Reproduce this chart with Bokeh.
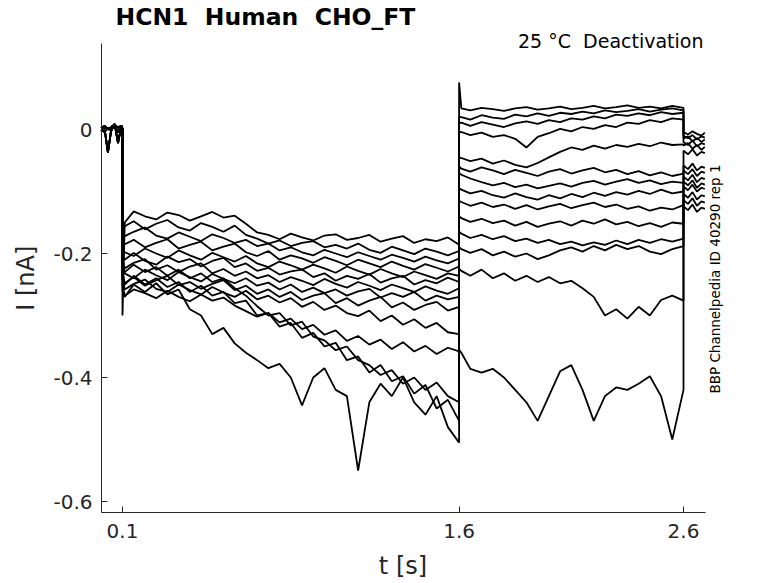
import math
from bokeh.plotting import figure
from bokeh.models import FixedTicker, Range1d, Label
from bokeh.embed import file_html
from bokeh.resources import INLINE

# ---------------- data ----------------
# time grids [s] of the four protocol segments
hold_t = [0.005, 0.02, 0.035, 0.05, 0.065, 0.08, 0.095, 0.1]
act_t = [0.1, 0.11, 0.15, 0.2, 0.25, 0.3, 0.35, 0.4, 0.45, 0.5, 0.55, 0.6, 0.65, 0.7,
         0.75, 0.8, 0.85, 0.9, 0.95, 1.0, 1.05, 1.1, 1.15, 1.2, 1.25, 1.3, 1.35, 1.4,
         1.45, 1.5, 1.55, 1.6]
test_t = [1.6, 1.61, 1.65, 1.7, 1.75, 1.8, 1.85, 1.9, 1.95, 2.0, 2.05, 2.1, 2.15, 2.2,
          2.25, 2.3, 2.35, 2.4, 2.45, 2.5, 2.55, 2.6]
tail_t = [2.6, 2.62, 2.64, 2.66, 2.68, 2.695]

# holding current [nA]
hold_a = [0.002, 0.006, 0.0, 0.004, 0.008, 0.003, 0.006, 0.002]
hold_b = [-0.003, 0.001, -0.037, 0.0, 0.005, -0.004, 0.004, 0.0]
hold_c = [0.0, -0.004, 0.003, -0.002, 0.009, -0.022, 0.006, -0.002]

# activation step currents [nA], one list per sweep
act_1 = [-0.30, -0.150, -0.132, -0.140, -0.145, -0.134, -0.138, -0.147, -0.140, -0.133, -0.142, -0.139, -0.152, -0.166, -0.170, -0.177, -0.168, -0.174, -0.179, -0.171, -0.169, -0.178, -0.175, -0.170, -0.181, -0.176, -0.172, -0.183, -0.177, -0.180, -0.174, -0.186]
act_2 = [-0.16, -0.156, -0.148, -0.161, -0.152, -0.146, -0.158, -0.163, -0.151, -0.157, -0.165, -0.155, -0.170, -0.176, -0.184, -0.179, -0.188, -0.183, -0.180, -0.190, -0.186, -0.192, -0.184, -0.194, -0.199, -0.189, -0.195, -0.201, -0.192, -0.197, -0.203, -0.196]
act_3 = [-0.17, -0.172, -0.165, -0.158, -0.171, -0.176, -0.166, -0.173, -0.180, -0.169, -0.175, -0.183, -0.178, -0.188, -0.184, -0.195, -0.190, -0.198, -0.203, -0.194, -0.200, -0.206, -0.198, -0.204, -0.210, -0.202, -0.207, -0.213, -0.205, -0.211, -0.216, -0.208]
act_4 = [-0.18, -0.185, -0.178, -0.190, -0.183, -0.177, -0.192, -0.186, -0.181, -0.195, -0.189, -0.184, -0.198, -0.204, -0.196, -0.210, -0.203, -0.208, -0.215, -0.206, -0.212, -0.219, -0.210, -0.216, -0.222, -0.213, -0.220, -0.226, -0.217, -0.223, -0.229, -0.221]
act_5 = [-0.19, -0.198, -0.204, -0.192, -0.200, -0.207, -0.195, -0.203, -0.210, -0.199, -0.206, -0.213, -0.204, -0.216, -0.222, -0.213, -0.219, -0.226, -0.218, -0.224, -0.231, -0.221, -0.228, -0.234, -0.225, -0.232, -0.238, -0.229, -0.235, -0.241, -0.232, -0.236]
act_6 = [-0.20, -0.210, -0.199, -0.212, -0.218, -0.205, -0.214, -0.209, -0.221, -0.212, -0.207, -0.222, -0.216, -0.228, -0.223, -0.234, -0.229, -0.226, -0.238, -0.232, -0.244, -0.236, -0.241, -0.233, -0.247, -0.240, -0.236, -0.250, -0.243, -0.248, -0.239, -0.246]
act_7 = [-0.21, -0.224, -0.215, -0.209, -0.226, -0.219, -0.230, -0.221, -0.216, -0.232, -0.225, -0.236, -0.229, -0.240, -0.235, -0.246, -0.238, -0.244, -0.251, -0.241, -0.249, -0.255, -0.246, -0.252, -0.259, -0.250, -0.256, -0.262, -0.253, -0.260, -0.265, -0.256]
act_8 = [-0.22, -0.232, -0.240, -0.226, -0.235, -0.243, -0.230, -0.238, -0.245, -0.233, -0.241, -0.248, -0.240, -0.252, -0.247, -0.258, -0.250, -0.262, -0.255, -0.264, -0.258, -0.268, -0.261, -0.257, -0.271, -0.264, -0.270, -0.262, -0.276, -0.268, -0.274, -0.270]
act_9 = [-0.23, -0.248, -0.238, -0.252, -0.243, -0.236, -0.251, -0.246, -0.257, -0.249, -0.243, -0.259, -0.252, -0.265, -0.258, -0.270, -0.262, -0.275, -0.268, -0.264, -0.280, -0.272, -0.284, -0.276, -0.270, -0.287, -0.279, -0.291, -0.283, -0.278, -0.292, -0.286]
act_10 = [-0.24, -0.258, -0.249, -0.242, -0.257, -0.262, -0.250, -0.259, -0.266, -0.254, -0.263, -0.270, -0.260, -0.274, -0.268, -0.279, -0.272, -0.286, -0.278, -0.291, -0.284, -0.296, -0.301, -0.292, -0.309, -0.300, -0.315, -0.306, -0.320, -0.312, -0.327, -0.330]
act_11 = [-0.25, -0.268, -0.258, -0.264, -0.272, -0.260, -0.270, -0.277, -0.266, -0.276, -0.271, -0.284, -0.293, -0.302, -0.296, -0.311, -0.305, -0.322, -0.315, -0.331, -0.324, -0.341, -0.333, -0.347, -0.339, -0.354, -0.343, -0.358, -0.349, -0.362, -0.352, -0.358]
act_12 = [-0.22, -0.230, -0.218, -0.230, -0.222, -0.236, -0.226, -0.240, -0.232, -0.246, -0.240, -0.256, -0.268, -0.285, -0.300, -0.296, -0.316, -0.310, -0.334, -0.340, -0.356, -0.350, -0.372, -0.380, -0.396, -0.388, -0.410, -0.400, -0.420, -0.408, -0.430, -0.440]
act_13 = [-0.24, -0.250, -0.236, -0.250, -0.240, -0.254, -0.246, -0.262, -0.252, -0.268, -0.262, -0.280, -0.276, -0.300, -0.296, -0.318, -0.312, -0.336, -0.328, -0.350, -0.344, -0.372, -0.366, -0.392, -0.380, -0.406, -0.398, -0.426, -0.412, -0.450, -0.436, -0.470]
act_14 = [-0.26, -0.270, -0.250, -0.262, -0.248, -0.266, -0.258, -0.290, -0.300, -0.330, -0.320, -0.345, -0.360, -0.372, -0.385, -0.378, -0.400, -0.445, -0.400, -0.385, -0.420, -0.430, -0.550, -0.440, -0.410, -0.430, -0.400, -0.440, -0.460, -0.430, -0.480, -0.505]

# deactivation test step currents [nA]
test_1 = [0.076, 0.034, 0.031, 0.035, 0.033, 0.030, 0.034, 0.036, 0.032, 0.034, 0.037, 0.033, 0.035, 0.038, 0.034, 0.036, 0.039, 0.035, 0.037, 0.034, 0.038, 0.035]
test_2 = [0.020, 0.020, 0.016, 0.023, 0.019, 0.017, 0.024, 0.021, 0.026, 0.022, 0.027, 0.025, 0.029, 0.026, 0.031, 0.028, 0.030, 0.033, 0.029, 0.032, 0.034, 0.031]
test_3 = [0.010, 0.011, 0.006, 0.012, 0.008, 0.004, 0.010, 0.013, 0.009, 0.015, 0.012, 0.018, 0.016, 0.021, 0.018, 0.024, 0.022, 0.026, 0.023, 0.028, 0.025, 0.027]
test_4 = [-0.005, -0.004, -0.009, -0.005, -0.012, -0.009, -0.015, -0.029, -0.012, -0.006, 0.001, -0.003, 0.004, 0.001, 0.007, 0.004, 0.011, 0.009, 0.015, 0.012, 0.018, 0.016]
test_5 = [-0.045, -0.046, -0.051, -0.047, -0.055, -0.050, -0.057, -0.061, -0.054, -0.045, -0.036, -0.029, -0.033, -0.026, -0.031, -0.025, -0.028, -0.023, -0.027, -0.021, -0.025, -0.024]
test_6 = [-0.060, -0.063, -0.068, -0.061, -0.066, -0.072, -0.065, -0.070, -0.075, -0.068, -0.064, -0.071, -0.066, -0.062, -0.069, -0.065, -0.072, -0.067, -0.074, -0.069, -0.075, -0.071]
test_7 = [-0.070, -0.073, -0.079, -0.085, -0.090, -0.086, -0.093, -0.089, -0.095, -0.091, -0.087, -0.092, -0.086, -0.083, -0.089, -0.084, -0.080, -0.086, -0.082, -0.088, -0.084, -0.086]
test_8 = [-0.095, -0.097, -0.103, -0.099, -0.106, -0.110, -0.103, -0.109, -0.113, -0.106, -0.111, -0.104, -0.109, -0.102, -0.107, -0.101, -0.105, -0.099, -0.104, -0.097, -0.103, -0.100]
test_9 = [-0.115, -0.117, -0.123, -0.118, -0.125, -0.121, -0.128, -0.122, -0.129, -0.124, -0.120, -0.127, -0.122, -0.118, -0.125, -0.121, -0.128, -0.124, -0.131, -0.126, -0.129, -0.122]
test_10 = [-0.140, -0.143, -0.149, -0.144, -0.151, -0.147, -0.155, -0.149, -0.157, -0.152, -0.148, -0.155, -0.147, -0.152, -0.145, -0.153, -0.149, -0.156, -0.151, -0.157, -0.150, -0.152]
test_11 = [-0.165, -0.168, -0.175, -0.170, -0.177, -0.172, -0.180, -0.176, -0.183, -0.178, -0.185, -0.181, -0.187, -0.182, -0.186, -0.179, -0.185, -0.178, -0.183, -0.177, -0.181, -0.176]
test_12 = [-0.190, -0.193, -0.199, -0.193, -0.203, -0.197, -0.205, -0.200, -0.209, -0.203, -0.195, -0.190, -0.197, -0.188, -0.195, -0.186, -0.193, -0.188, -0.197, -0.201, -0.193, -0.188]
test_13 = [-0.225, -0.228, -0.236, -0.226, -0.240, -0.232, -0.244, -0.236, -0.246, -0.238, -0.248, -0.244, -0.256, -0.270, -0.300, -0.290, -0.305, -0.286, -0.300, -0.275, -0.268, -0.276]
test_14 = [-0.355, -0.360, -0.386, -0.392, -0.386, -0.400, -0.420, -0.440, -0.470, -0.430, -0.390, -0.380, -0.420, -0.470, -0.430, -0.416, -0.420, -0.410, -0.398, -0.430, -0.500, -0.420]

# tail currents back at holding potential [nA]
tail_1 = [-0.004, -0.008, -0.003, -0.007, -0.010, -0.005]
tail_2 = [-0.010, -0.014, -0.009, -0.016, -0.011, -0.013]
tail_3 = [-0.015, -0.011, -0.019, -0.014, -0.020, -0.016]
tail_4 = [-0.020, -0.025, -0.018, -0.027, -0.022, -0.024]
tail_5 = [-0.026, -0.022, -0.031, -0.025, -0.033, -0.028]
tail_6 = [-0.034, -0.040, -0.032, -0.042, -0.036, -0.038]
tail_7 = [-0.058, -0.064, -0.055, -0.066, -0.060, -0.062]
tail_8 = [-0.066, -0.072, -0.064, -0.075, -0.068, -0.070]
tail_9 = [-0.076, -0.082, -0.073, -0.085, -0.078, -0.080]
tail_10 = [-0.084, -0.090, -0.082, -0.094, -0.087, -0.089]
tail_11 = [-0.092, -0.098, -0.089, -0.100, -0.094, -0.096]
tail_12 = [-0.104, -0.110, -0.101, -0.113, -0.106, -0.108]
tail_13 = [-0.114, -0.120, -0.111, -0.123, -0.116, -0.118]
tail_14 = [-0.124, -0.130, -0.121, -0.133, -0.126, -0.128]

x_ticks = [0.1, 1.6, 2.6]
x_tick_labels = ["0.1", "1.6", "2.6"]
y_ticks = [-0.6, -0.4, -0.2, 0]
y_tick_labels = ["-0.6", "-0.4", "-0.2", "0"]

title_text = "HCN1 \u00a0Human \u00a0CHO_FT"
subtitle_text = "25 \u00b0C \u00a0Deactivation"
x_label = "t [s]"
y_label = "I [nA]"
side_text = "BBP Channelpedia ID 40290 rep 1"

# ---------------- assemble sweeps ----------------
holds = [hold_a, hold_b, hold_c]
acts = [act_1, act_2, act_3, act_4, act_5, act_6, act_7, act_8, act_9, act_10, act_11, act_12, act_13, act_14]
tests = [test_1, test_2, test_3, test_4, test_5, test_6, test_7, test_8, test_9, test_10, test_11, test_12, test_13, test_14]
tails = [tail_1, tail_2, tail_3, tail_4, tail_5, tail_6, tail_7, tail_8, tail_9, tail_10, tail_11, tail_12, tail_13, tail_14]

xs, ys = [], []
for k in range(len(acts)):
    xs.append(hold_t + act_t + test_t + tail_t)
    ys.append(holds[k % 3] + acts[k] + tests[k] + tails[k])

# ---------------- figure ----------------
# extents (data units) of the visible axes box
X0, X1 = 0.006417, 2.69804
Y0, Y1 = -0.617742, 0.138710
# the plotting frame covers the whole canvas; axes are pinned at the box edges
p = figure(width=778, height=583, output_backend="svg", toolbar_location=None,
           x_range=Range1d(-0.443672, 3.023351), y_range=Range1d(-0.732258, 0.208065),
           min_border=0)
p.outline_line_color = None
p.grid.visible = False
p.background_fill_color = "white"
p.border_fill_color = "white"

p.multi_line(xs=xs, ys=ys, line_color="black", line_width=1.8)

AX = "#262626"
for ax in (p.xaxis[0], p.yaxis[0]):
    ax.axis_line_color = AX
    ax.axis_line_width = 1
    ax.major_tick_line_color = AX
    ax.major_tick_in = 6
    ax.major_tick_out = 0
    ax.minor_tick_in = 0
    ax.minor_tick_out = 0
    ax.major_label_text_font = "DejaVu Sans"
    ax.major_label_text_font_size = "20px"
    ax.major_label_text_color = AX

p.xaxis.fixed_location = Y0
p.xaxis.bounds = (X0, X1)
p.xaxis.ticker = FixedTicker(ticks=x_ticks)
p.xaxis.major_label_overrides = dict(zip(x_ticks, x_tick_labels))
p.xaxis.major_label_standoff = 11
p.yaxis.fixed_location = X0
p.yaxis.bounds = (Y0, Y1)
p.yaxis.ticker = FixedTicker(ticks=y_ticks)
p.yaxis.major_label_overrides = dict(zip(y_ticks, y_tick_labels))
p.yaxis.major_label_standoff = 9

p.add_layout(Label(x=0.0688, y=0.18113, text=title_text, text_font="DejaVu Sans",
                   text_font_style="bold", text_font_size="23.5px", text_color="black",
                   text_align="left", text_baseline="alphabetic"))
p.add_layout(Label(x=2.6891, y=0.14226, text=subtitle_text, text_font="DejaVu Sans",
                   text_font_size="19px", text_color="black",
                   text_align="right", text_baseline="alphabetic"))
p.add_layout(Label(x=2.73815, y=-0.2411, text=side_text, text_font="DejaVu Sans",
                   text_font_size="13.5px", text_color="black", angle=math.pi / 2,
                   text_align="center", text_baseline="alphabetic"))
p.add_layout(Label(x=1.35, y=-0.70403, text=x_label, text_font="DejaVu Sans",
                   text_font_size="24px", text_color=AX,
                   text_align="center", text_baseline="alphabetic"))
p.add_layout(Label(x=-0.33048, y=-0.23984, text=y_label, text_font="DejaVu Sans",
                   text_font_size="24px", text_color=AX, angle=math.pi / 2,
                   text_align="center", text_baseline="alphabetic"))

open("out.html", "w").write(file_html(p, INLINE))
